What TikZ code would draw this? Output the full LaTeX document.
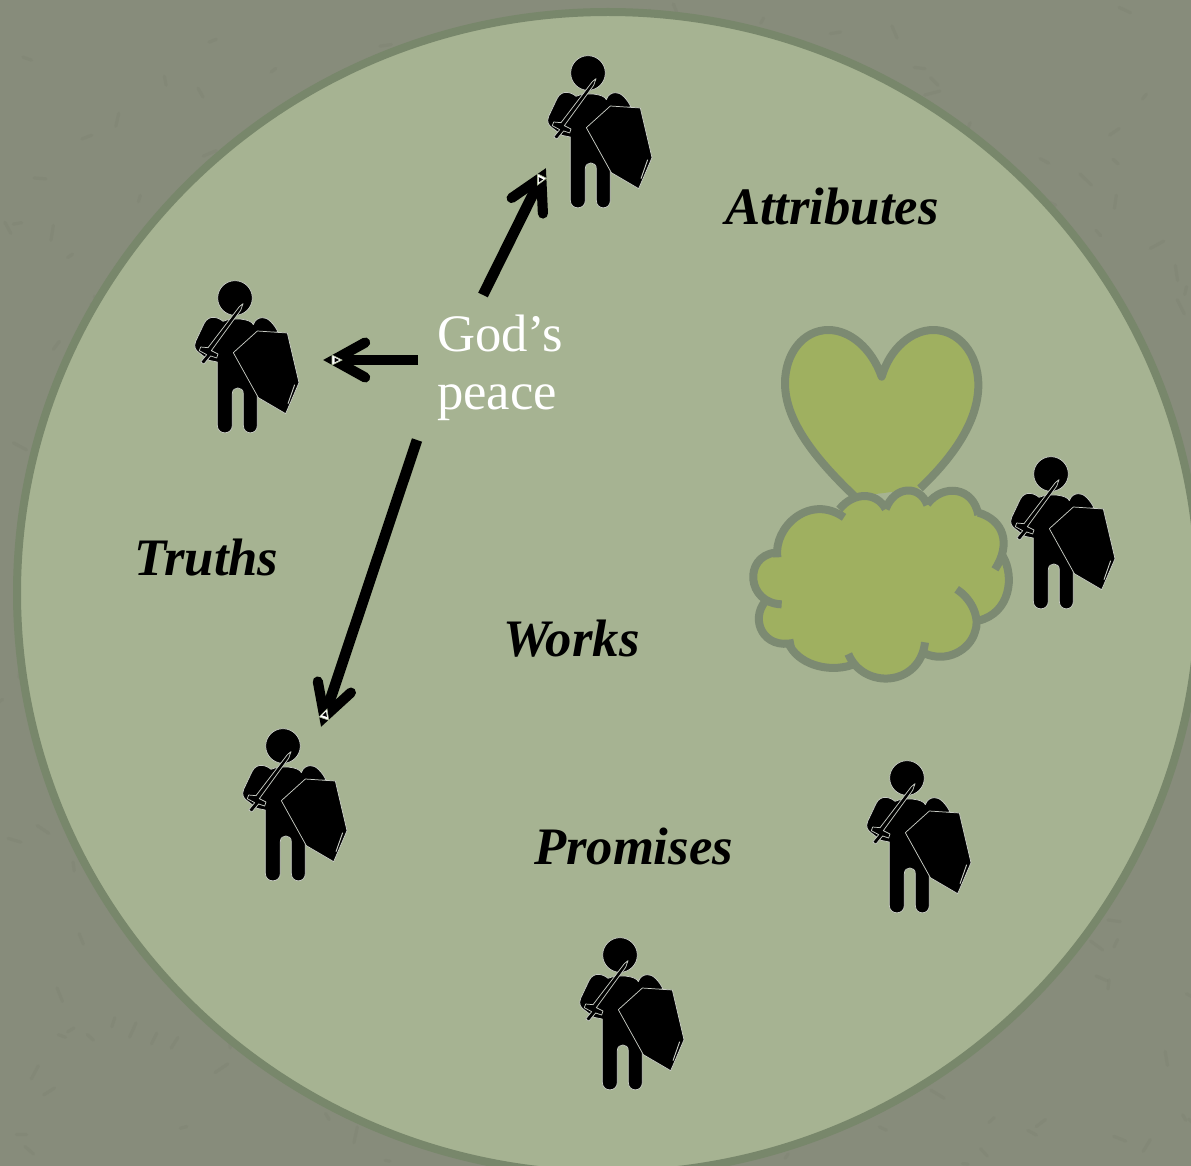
\documentclass[tikz,border=0pt]{standalone}
\usepackage{fontspec}
\setmainfont{Liberation Serif}
\usetikzlibrary{calc}
\definecolor{bgc}{HTML}{878C7B}
\definecolor{mott}{HTML}{6A6F60}
\definecolor{disc}{HTML}{A6B392}
\definecolor{rim}{HTML}{78876B}
\definecolor{leaf}{HTML}{9FB060}
\definecolor{leafrim}{HTML}{7C8A72}
\definecolor{halo}{HTML}{C8CCC4}
\tikzset{
  outl/.style={draw=halo,line width=.55pt,fill=black,line join=round},
  shaft/.style={draw=black,line width=8pt,line cap=butt},
  barb/.style={draw=black,line width=7.6pt,line cap=round,line join=miter,miter limit=20},
  spark/.style={draw=disc,line width=.5pt,fill=white},
  lobe/.style={draw=leafrim,line width=6pt,line cap=butt,line join=round},
  word/.style={font=\fontsize{39.5}{39.5}\selectfont\bfseries\itshape,text=black,anchor=base west,inner sep=0pt,outer sep=0pt},
  peacew/.style={font=\fontsize{39.5}{39.5}\selectfont,text=white,anchor=base west,inner sep=0pt,outer sep=0pt}
}
\newcommand{\soldierfig}[2]{%
  \begin{scope}[shift={(#1-57.67,#2-32.67)},x=.25pt,y=-.25pt]
    % body
    \draw[outl] (120,290) -- (120,480) .. controls (120,510) and (165,510) .. (165,480)
      -- (165,385) .. controls (165,362) and (198,362) .. (198,385)
      -- (198,480) .. controls (198,510) and (240,510) .. (240,480)
      -- (240,205) -- (302,200) .. controls (290,175) and (270,155) .. (255,157)
      .. controls (243,157) and (232,165) .. (228,178)
      .. controls (222,160) and (165,155) .. (137,168)
      .. controls (125,157) and (95,145) .. (80,175)
      -- (55,228) .. controls (48,245) and (55,255) .. (65,262) -- (95,285) -- cycle;
    % head
    \draw[outl] (173,98) circle[radius=52];
    % sword
    \draw[outl] (197,115) -- (186,124) -- (92,247) -- (70,245) -- (66,256) -- (88,268) -- (70,290) -- (80,296)
      -- (100,272) -- (118,278) -- (122,266) -- (102,256) -- (190,135) -- cycle;
    % shield
    \draw[outl] (168,262) -- (240,197) -- (330,203) -- (365,352) -- (325,445) -- (243,397) -- cycle;
    \draw[draw=halo,line width=.7pt] (352,358) -- (332,415);
  \end{scope}}
\newcommand{\peacearrow}[3]{% start, visual tip, page angle from tip to start
  \draw[shaft] (#1) -- ($(#2)!9pt!(#1)$);
  \draw[barb] ($(#2)!8pt!(#1)!27pt!29:(#1)$) -- ($(#2)!8pt!(#1)$) -- ($(#2)!8pt!(#1)!27pt!-29:(#1)$);
  \begin{scope}[shift={(#2)},rotate=#3]
    \draw[spark] (9,-5) -- (9,5) -- (19,0) -- cycle;
    \fill[black] (11.5,-2.4) -- (11.5,2.4) -- (16,0) -- cycle;
  \end{scope}}
\newcommand{\cloudline}[1]{\draw[lobe] plot[smooth,tension=.7] coordinates {#1};}
\begin{document}
\begin{tikzpicture}[x=.75pt,y=-.75pt]
  \useasboundingbox (0,0) rectangle (1191,1166);
  \fill[bgc] (0,0) rectangle (1191,1166);
  % mottled backdrop
  \pgfmathsetseed{7}
  \begin{scope}
    \clip (0,0) rectangle (1191,1166);
    \foreach \i in {1,...,420}{
      \pgfmathsetmacro{\mx}{rnd*1191}
      \pgfmathsetmacro{\my}{rnd*1166}
      \pgfmathsetmacro{\ma}{rnd*180}
      \pgfmathsetmacro{\ml}{4+rnd*12}
      \draw[mott,opacity=.13,line width=2.4pt,line cap=round]
        (\mx,\my) -- ++(\ma:\ml);
    }
  \end{scope}
  % big disc
  \draw[fill=disc,draw=rim,line width=6pt] (608,593) ellipse[x radius=591,y radius=581];

  % heart and cloud, in 1/3 px units
  \begin{scope}[shift={(740,320)},x=.25pt,y=-.25pt]
    \draw[fill=leaf,draw=leafrim,line width=6pt,line join=round]
      (540,505)
      .. controls (630,420) and (715,310) .. (715,195)
      .. controls (715,100) and (655,30) .. (580,30)
      .. controls (515,30) and (450,85) .. (425,170)
      .. controls (395,85) and (330,30) .. (265,30)
      .. controls (190,30) and (135,100) .. (135,190)
      .. controls (135,310) and (240,430) .. (345,530);
    % cloud body, built from the lobes' outer edge
    \fill[leaf]
      (112,712) .. controls (100,620) and (210,520) .. (310,590)
      -- (298,568) .. controls (340,515) and (410,515) .. (437,567)
      .. controls (465,495) and (540,495) .. (562,552)
      .. controls (610,490) and (700,500) .. (715,580)
      .. controls (780,600) and (815,670) .. (788,708)
      .. controls (825,770) and (810,880) .. (715,902)
      .. controls (710,980) and (610,1040) .. (553,1000)
      .. controls (510,1100) and (370,1110) .. (325,1005)
      -- (336,1035) .. controls (260,1060) and (170,1030) .. (145,968)
      .. controls (70,990) and (30,900) .. (75,845)
      .. controls (20,810) and (30,700) .. (105,698) -- cycle;
    \draw[lobe] (112,712) .. controls (100,620) and (210,520) .. (312,592);
    \draw[lobe] (298,568) .. controls (340,515) and (410,515) .. (437,567);
    \draw[lobe] (437,567) .. controls (465,495) and (540,495) .. (562,555);
    \draw[lobe] (562,552) .. controls (610,490) and (700,500) .. (715,585);
    \draw[lobe] (715,578) .. controls (790,600) and (815,670) .. (765,748);
    \draw[lobe] (788,708) .. controls (825,770) and (810,880) .. (715,902);
    \draw[lobe] (650,808) .. controls (700,840) and (720,900) .. (705,935)
                .. controls (690,990) and (620,1030) .. (553,1000);
    \draw[lobe] (555,967) .. controls (540,1100) and (370,1110) .. (325,1002);
    \draw[lobe] (336,1035) .. controls (260,1060) and (170,1030) .. (145,968);
    \draw[lobe] (162,968) .. controls (70,990) and (30,900) .. (75,845);
    \draw[lobe] (125,853) .. controls (20,850) and (10,710) .. (105,698);
  \end{scope}

  % soldiers
  \soldierfig{588}{73}
  \soldierfig{235}{298}
  \soldierfig{283}{746}
  \soldierfig{1051}{474}
  \soldierfig{907}{778}
  \soldierfig{620}{955}

  % labels
  \node[word] (attr) at (725,224) {Attributes};
  \node[word] (truths) at (134,575) {Truths};
  \node[word] (works) at (503,656) {Works};
  \node[word] (prom) at (534,864) {Promises};
  \node[peacew] (gods) at (437,351) {God’s};
  \node[peacew] (peace) at (437,409) {peace};

  % arrows
  \coordinate (upS) at (483,295);
  \coordinate (upT) at (546,168);
  \coordinate (ltS) at (418,360);
  \coordinate (ltT) at (323,360);
  \coordinate (dnS) at (417,440);
  \coordinate (dnT) at (321,727);
  \peacearrow{upS}{upT}{243.6}
  \peacearrow{ltS}{ltT}{0}
  \peacearrow{dnS}{dnT}{71.5}
\end{tikzpicture}
\end{document}
